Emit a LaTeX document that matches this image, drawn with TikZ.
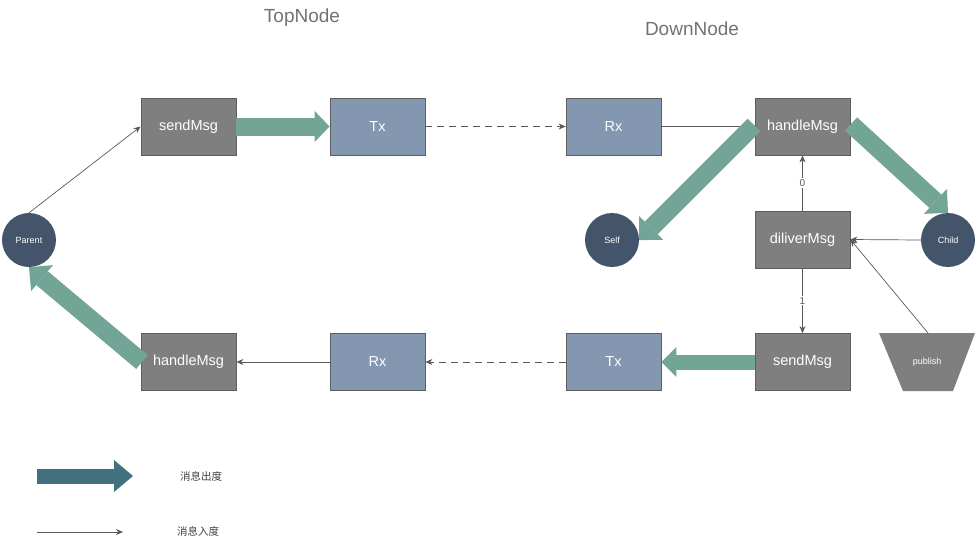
\documentclass[tikz,border=0pt]{standalone}
\usepackage{fontspec}
\setmainfont{Liberation Sans}
\newfontfamily\cjk{Noto Sans CJK SC}
\usetikzlibrary{arrows.meta}
\definecolor{boxgray}{HTML}{7F7F7F}
\definecolor{boxedge}{HTML}{5E5E5E}
\definecolor{boxblue}{HTML}{8497B0}
\definecolor{circ}{HTML}{44546A}
\definecolor{fatg}{HTML}{72A595}
\definecolor{legfat}{HTML}{41707F}
\definecolor{thin}{HTML}{595959}
\definecolor{titlecol}{HTML}{767171}
\definecolor{legtext}{HTML}{404040}
\begin{document}
\begin{tikzpicture}[x=1pt,y=-1pt,
 gbox/.style={draw=boxedge,fill=boxgray,line width=0.8pt,minimum width=95pt,minimum height=57pt,inner sep=0pt,text=white,font=\fontsize{14.5}{16}\selectfont},
 bbox/.style={gbox,fill=boxblue},
 circnode/.style={circle,fill=circ,minimum size=54pt,inner sep=0pt,text=white,font=\fontsize{9}{10}\selectfont},
 conn/.style={draw=thin,line width=0.7pt,-{Stealth[length=7pt,width=6pt]}},
 plainconn/.style={draw=thin,line width=0.7pt},
 dashconn/.style={conn,dash pattern=on 7pt off 5pt},
 fat/.style={draw=fatg,line width=18pt,-{Triangle[width=34pt,length=17pt,line width=0pt]}},
 lbl/.style={fill=white,text=thin,font=\fontsize{10}{11}\selectfont,inner sep=1pt},
 titlestyle/.style={text=titlecol,font=\fontsize{19}{21}\selectfont},
 legstyle/.style={text=legtext,font=\cjk\fontsize{10.5}{12}\selectfont},
]
\useasboundingbox (0,0) rectangle (977,542);

\node[titlestyle] (tn) at (302,18) {TopNode};
\node[titlestyle] (dn) at (692,29) {DownNode};

\node[gbox] (sm1) at (188.5,126.5) {sendMsg};
\node[bbox] (tx1) at (377.5,126.5) {Tx};
\node[bbox] (rx1) at (613.5,126.5) {Rx};
\node[gbox] (hm1) at (802.5,126.5) {handleMsg};
\node[gbox] (dm) at (802.5,239.5) {diliverMsg};
\node[gbox] (sm2) at (802.5,362) {sendMsg};
\node[bbox] (tx2) at (613.5,362) {Tx};
\node[bbox] (rx2) at (377.5,362) {Rx};
\node[gbox] (hm2) at (188.5,362) {handleMsg};
\node[circnode] (parent) at (29,240) {Parent};
\node[circnode] (self) at (612,240) {Self};
\node[circnode] (child) at (948,240) {Child};

\fill[boxgray] (879,333) -- (975,333) -- (953,391) -- (903,391) -- cycle;
\node[text=white,font=\fontsize{9}{10}\selectfont] (pub) at (927,362) {publish};
\coordinate (pubtop) at (928,333);

% thin connectors
\draw[conn] (parent.north) -- (sm1.west);
\draw[dashconn] (tx1.east) -- (rx1.west);
\draw[plainconn] (rx1.east) -- (hm1.west);
\draw[conn] (dm.north) -- node[lbl] {0} (hm1.south);
\draw[conn] (dm.south) -- node[lbl] {1} (sm2.north);
\draw[conn] (child.west) -- (dm.east);
\draw[conn] (pubtop) -- (dm.east);
\draw[dashconn] (tx2.west) -- (rx2.east);
\draw[conn] (rx2.west) -- (hm2.east);

% fat arrows
\draw[fat,line width=18pt,-{Triangle[width=31pt,length=15pt,line width=0pt]}] (sm1.east) -- (tx1.west);
\draw[fat,line width=15pt,-{Triangle[width=30pt,length=15pt,line width=0pt]}] (sm2.west) -- (tx2.east);
\coordinate (hmL) at (754,125);
\coordinate (hmR) at (851,124);
\coordinate (hmB) at (142,362);
\draw[fat] (hmL) -- (self.east);
\draw[fat] (hmR) -- (child.north);
\draw[fat] (hmB) -- (parent.south);

% legend
\coordinate (lf1) at (37,476);
\coordinate (lf2) at (133,476);
\draw[draw=legfat,line width=15pt,-{Triangle[width=32pt,length=19pt,line width=0pt]}] (lf1) -- (lf2);
\node[legstyle] (lt1) at (201,476) {消息出度};
\coordinate (lt2a) at (37,532);
\coordinate (lt2b) at (123,532);
\draw[conn] (lt2a) -- (lt2b);
\node[legstyle] (lt2) at (198,531) {消息入度};
\end{tikzpicture}
\end{document}
